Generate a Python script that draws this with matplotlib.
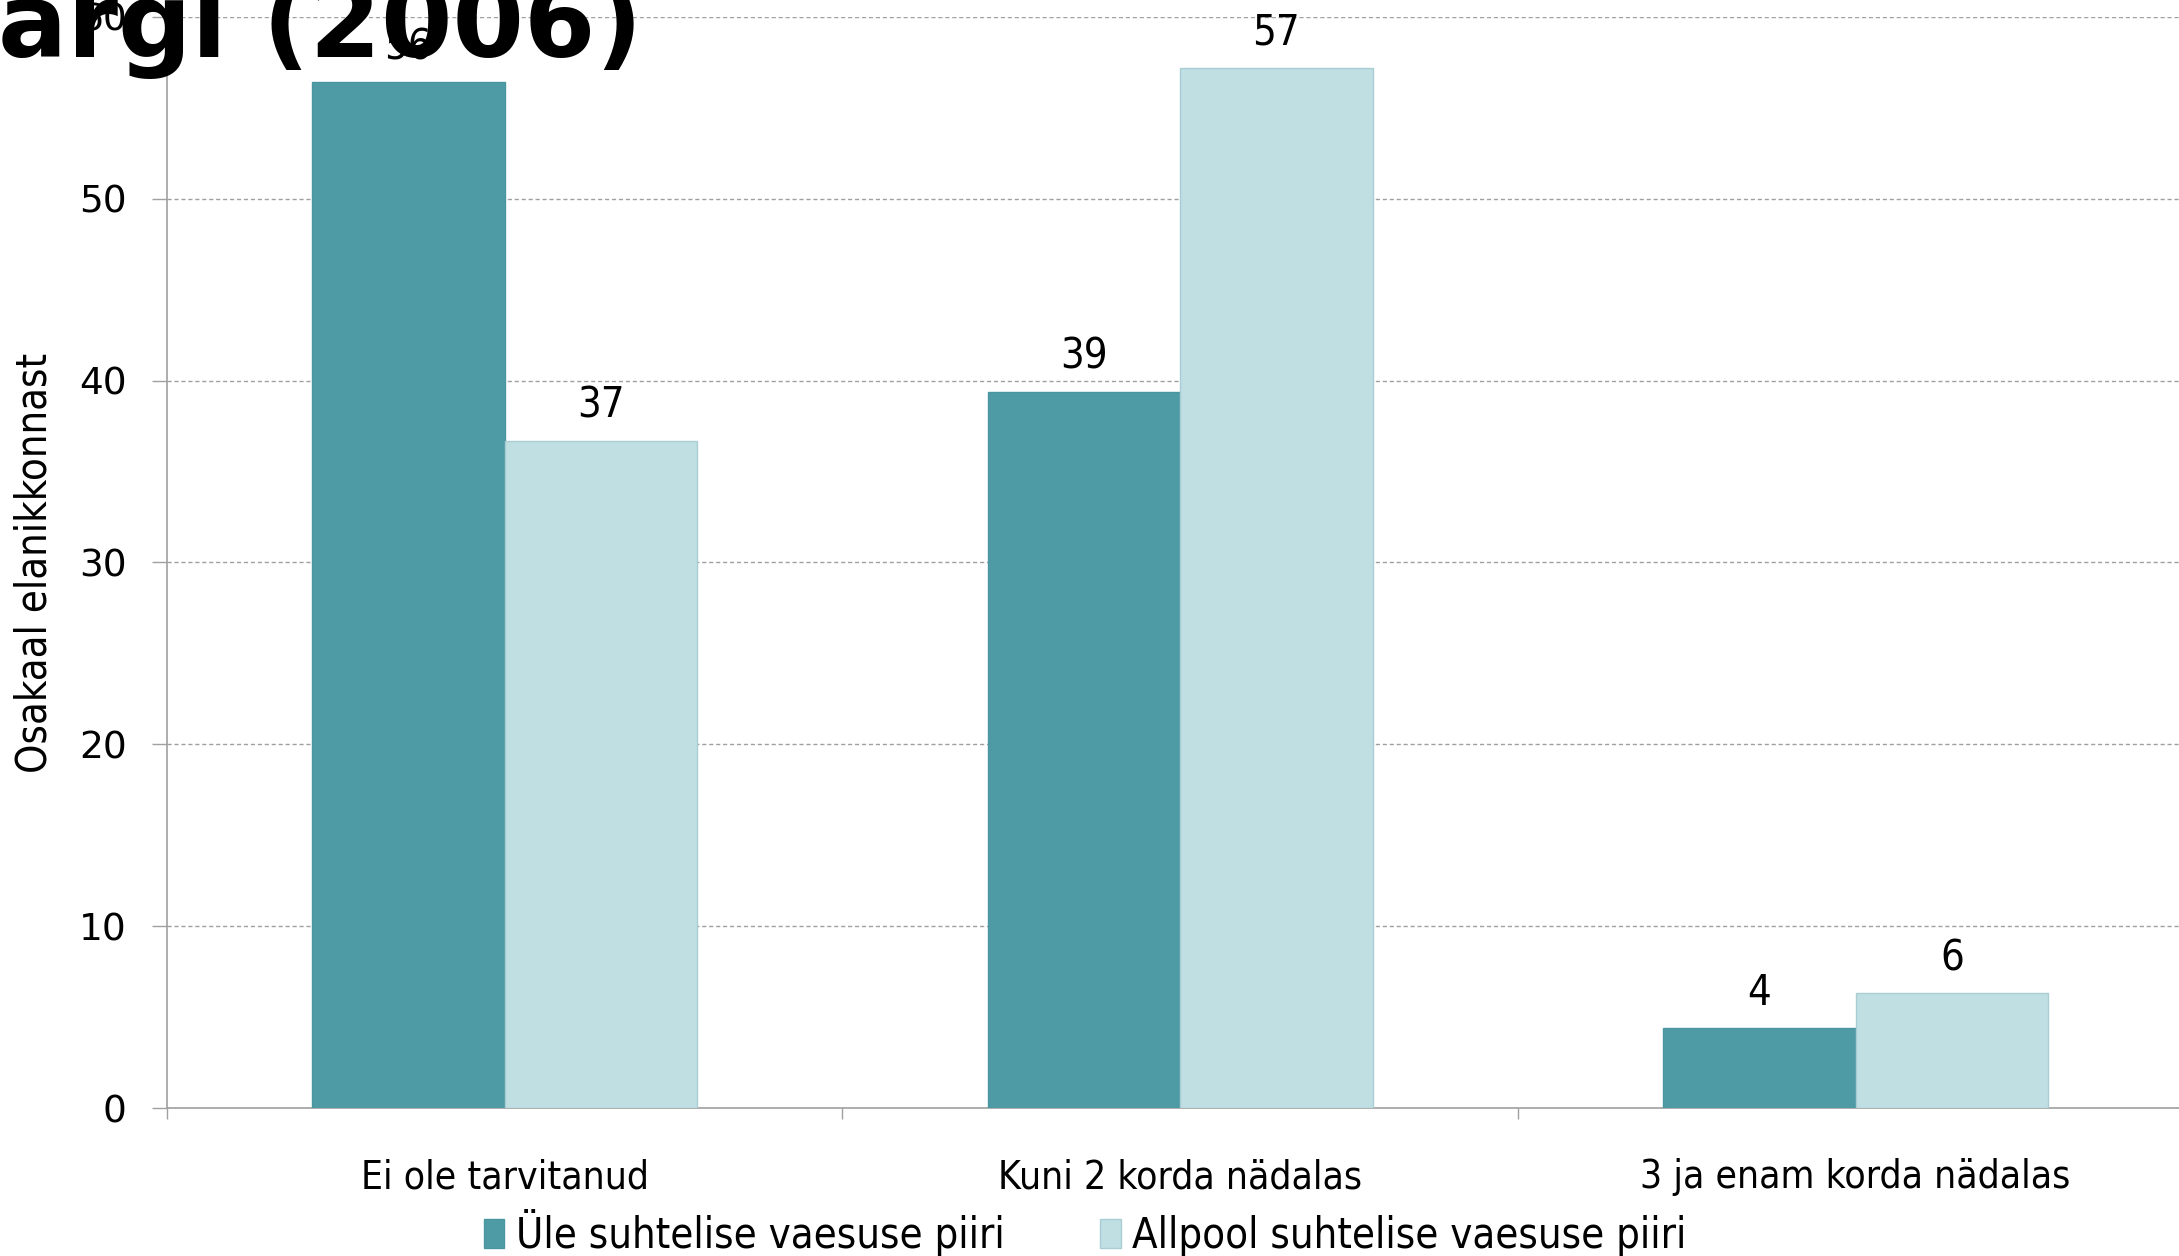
import matplotlib.pyplot as plt
from matplotlib import font_manager as fm
import numpy as np

categories = ["Ei ole tarvitanud", "Kuni 2 korda nädalas", "3 ja enam korda nädalas"]
series_names = ["Üle suhtelise vaesuse piiri", "Allpool suhtelise vaesuse piiri"]
above = [56.4, 39.4, 4.4]
below = [36.7, 57.2, 6.3]
yticks = [0, 10, 20, 30, 40, 50, 60]
title = "argi (2006)"

dark = "#4e9ba5"
light = "#bfdfe3"

# narrow face for the labels, if a condensed DejaVu is around
has_cond = any(f.name == "DejaVu Sans" and f.stretch in ("condensed", 87.5, "semi-condensed")
               for f in fm.fontManager.ttflist)
narrow = dict(family="DejaVu Sans", stretch="condensed") if has_cond else dict(family="DejaVu Sans")
k = 1.0 if has_cond else 0.9

fig = plt.figure(figsize=(21.79, 12.56), dpi=100)
ax = fig.add_axes([0.0766, 0.1178, 0.930, 0.8687])

x = np.arange(len(categories))
w = 0.285
b1 = ax.bar(x - w / 2, above, w, color=dark, edgecolor="#4a96a0", linewidth=1, label=series_names[0], zorder=3)
b2 = ax.bar(x + w / 2, below, w, color=light, edgecolor="#a9cdd2", linewidth=1, label=series_names[1], zorder=3)

for bars, vals in [(b1, above), (b2, below)]:
    for r, v in zip(bars, vals):
        ax.annotate(f"{round(v)}", (r.get_x() + r.get_width() / 2, v), xytext=(0, 10),
                    textcoords="offset points", ha="center", va="bottom",
                    fontsize=30 * k, **narrow)

ax.set_xlim(-0.5, 2.5)
ax.set_ylim(0, 60)
ax.set_yticks(yticks)
ax.tick_params(axis="y", labelsize=27, length=11, width=1, color="#a0a0a0", pad=18)
ax.set_xticks([-0.5, 0.5, 1.5, 2.5])
ax.set_xticklabels([])
ax.set_xticks(x, minor=True)
ax.set_xticklabels(categories, minor=True, fontsize=28 * k, **narrow)
ax.tick_params(axis="x", which="major", length=8, width=1, color="#a0a0a0")
ax.tick_params(axis="x", which="minor", length=0, pad=36)

ax.grid(axis="y", color="#a0a0a0", linestyle=(0, (3, 2)), linewidth=1, zorder=0)
ax.set_axisbelow(True)
for s in ["top", "right"]:
    ax.spines[s].set_visible(False)
for s in ["left", "bottom"]:
    ax.spines[s].set_color("#a0a0a0")
    ax.spines[s].set_linewidth(1.2)

ax.set_ylabel("Osakaal elanikkonnast", fontsize=30 * k, **narrow)
ax.yaxis.set_label_coords(-0.0548, 0.5)

fig.legend(loc="center", bbox_to_anchor=(0.498, 0.018), ncol=2, frameon=False,
           prop=dict(size=30 * k, **narrow), handlelength=0.5, handleheight=0.7,
           handletextpad=0.27, columnspacing=2.3)

fig.text(642 / 2179, 1 - 57 / 1256, title, ha="right", va="baseline",
         fontsize=74, fontweight="bold", family="DejaVu Sans")

fig.savefig("out.png", dpi=100)
